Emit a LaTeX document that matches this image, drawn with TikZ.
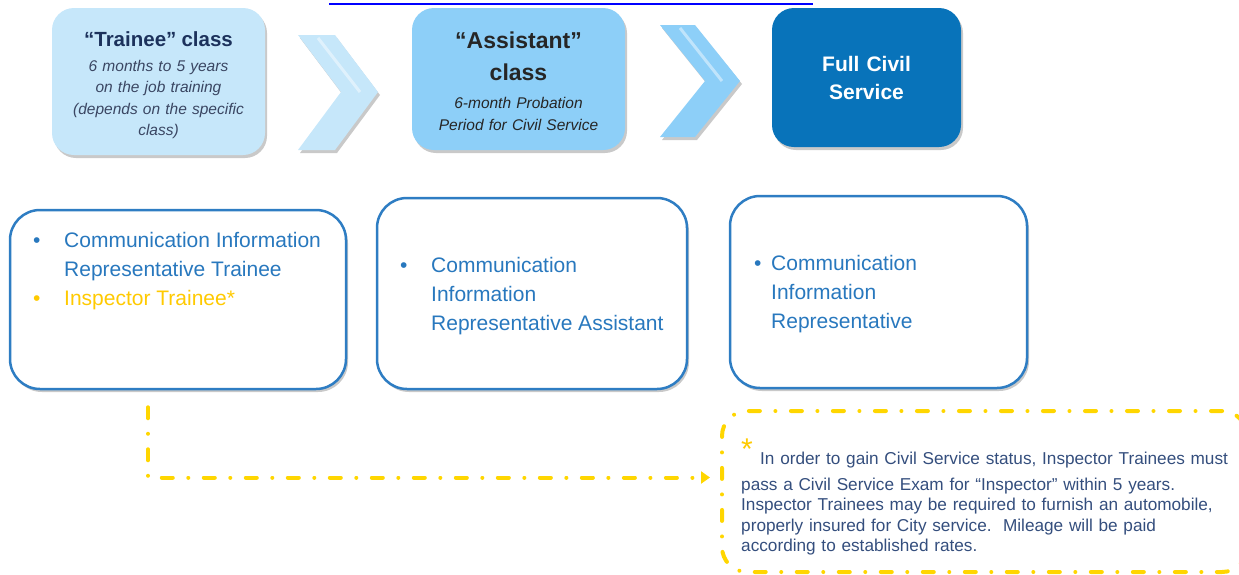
\documentclass[tikz,border=0pt]{standalone}
\usepackage{fontspec}
\setmainfont{Liberation Sans}
\usetikzlibrary{shadows,arrows.meta}

\definecolor{traineefill}{RGB}{198,231,250}
\definecolor{assistfill}{RGB}{141,207,248}
\definecolor{fullfill}{RGB}{8,115,186}
\definecolor{navytext}{RGB}{28,50,92}
\definecolor{slatetext}{RGB}{58,70,98}
\definecolor{boxblue}{RGB}{46,125,195}
\definecolor{listblue}{RGB}{40,120,190}
\definecolor{insyellow}{RGB}{255,202,0}
\definecolor{dashyellow}{RGB}{255,214,0}
\definecolor{notegray}{RGB}{52,78,125}
\definecolor{linkblue}{RGB}{0,0,255}

\newcommand\stagehead{\fontsize{23}{21.5}\selectfont\bfseries}

\tikzset{
  softshadow/.style={drop shadow={shadow xshift=2pt, shadow yshift=-3pt, opacity=.3, fill=black!70}},
  stagebox/.style={rectangle, rounded corners=22pt, inner sep=0pt, align=center,
    font=\fontsize{15.5}{21.5}\selectfont, softshadow},
  listbox/.style={rectangle, draw=boxblue, line width=2.5pt, rounded corners=30pt, fill=white, softshadow},
  listtext/.style={inner sep=0pt, anchor=base west, text=listblue, font=\fontsize{21}{29}\selectfont},
  yellowdash/.style={dashyellow, line width=4pt, line cap=round,
    dash pattern=on 11pt off 15.5pt on 0.01pt off 15.5pt},
  notebox/.style={rectangle, draw, yellowdash, rounded corners=25pt},
  notelines/.style={inner sep=0pt, anchor=base west, text width=500pt, align=left,
    text=notegray, font=\fontsize{17.2}{20.5}\selectfont},
}

\begin{document}
\begin{tikzpicture}[x=1pt, y=-1pt]
\useasboundingbox (0,0) rectangle (1239,574);
\clip (0,0) rectangle (1239,574);

% underline of the link cut by the top edge
\draw[linkblue, line width=2pt] (329,3.5) -- (813,3.5);

% the three stages
\node[stagebox, fill=traineefill, minimum width=213pt, minimum height=147pt, text width=205pt, text=slatetext] (trainee) at (158.5,81.5)
  {\rule{0pt}{22pt}{\fontsize{20.5}{21.5}\selectfont\bfseries\color{navytext}“Trainee” class}\\[3.5pt]
   \itshape 6 months to 5 years\\on the job training\\(depends on the specific\\class)};
\node[stagebox, fill=assistfill, minimum width=213pt, minimum height=142pt, text width=205pt, text=black!85] (assistant) at (518.5,79)
  {\rule{0pt}{21pt}{\stagehead “Assistant”}\\[11pt]{\stagehead class}\\[6.5pt]
   \itshape 6-month Probation\\Period for Civil Service};
\node[stagebox, fill=fullfill, minimum width=189pt, minimum height=139pt, text width=180pt, text=white,
  font=\fontsize{21}{21.5}\selectfont\bfseries] (full) at (866.5,77.5)
  {Full Civil\\[6.5pt]Service};

% chevrons
\fill[traineefill, softshadow] (298,35) -- (335,35) -- (378,92) -- (335,150) -- (298,150) -- (341,92) -- cycle;
\fill[assistfill, softshadow] (660,25) -- (695,25) -- (740,81) -- (695,137) -- (660,137) -- (705,81) -- cycle;
\draw[white, opacity=.45, line width=3pt] (318,38) -- (360,92);
\draw[white, opacity=.45, line width=3pt] (680,28) -- (722,81);

% job titles
\node[listbox, minimum width=336pt, minimum height=179pt] (traineelist) at (178,299.5) {};
\node[listbox, minimum width=310pt, minimum height=191pt] (assistantlist) at (532,293.5) {};
\node[listbox, minimum width=297pt, minimum height=192pt] (fulllist) at (878.5,292) {};

\node[listtext] (traineeitems) at (33,247)
  {\begin{tabular}[t]{@{}p{31pt}@{}l@{}}•&Communication Information\\&Representative Trainee\\
   \textcolor{insyellow}{•}&\textcolor{insyellow}{Inspector Trainee*}\end{tabular}};
\node[listtext] (assistantitems) at (400,272)
  {\begin{tabular}[t]{@{}p{31pt}@{}l@{}}•&Communication\\&Information\\&Representative Assistant\end{tabular}};
\node[listtext] (fullitems) at (754,270)
  {\begin{tabular}[t]{@{}p{17pt}@{}l@{}}•&Communication\\&Information\\&Representative\end{tabular}};

% footnote
\node[notebox, minimum width=525pt, minimum height=161pt] (note) at (984.5,491.5) {};
\node[inner sep=0pt, anchor=base west, text=insyellow, font=\fontsize{30}{30}\selectfont] (notestar) at (741,459.5) {*};
\node[notelines] (notebody) at (741,464)
  {\hspace*{19pt}In order to gain Civil Service status, Inspector Trainees must\\[5.5pt]
   pass a Civil Service Exam for “Inspector” within 5 years.\\
   Inspector Trainees may be required to furnish an automobile,\\
   properly insured for City service.\ \ Mileage will be paid\\
   according to established rates.};

\coordinate (dstart) at ([xshift=-30pt,yshift=-17pt]traineelist.south);
\coordinate (dend) at ([xshift=-10pt,yshift=14pt]note.west);
\draw[yellowdash, -{Triangle[length=9pt,width=12pt]}] (dstart) |- (dend);
\end{tikzpicture}
\end{document}
